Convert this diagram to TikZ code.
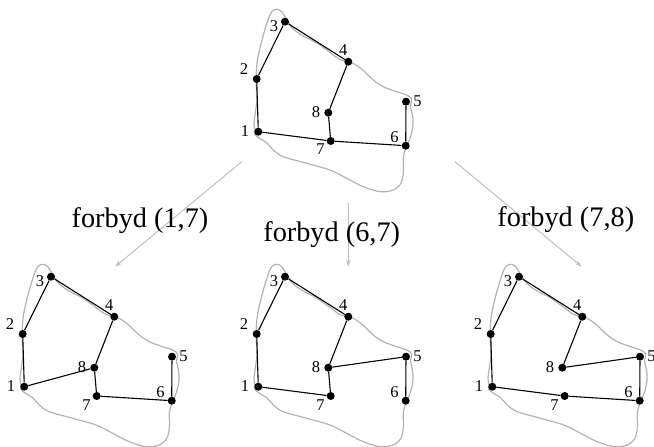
\documentclass[tikz,border=0pt]{standalone}
\usepackage{fontspec}
\setmainfont{Liberation Serif}
\usetikzlibrary{arrows.meta}
\tikzset{
 gdot/.style={circle,fill=black,inner sep=0pt,minimum size=8bp},
 lbl/.style={inner sep=0pt,font=\fontsize{16.5bp}{16.5bp}\selectfont},
 gedge/.style={line width=1.1bp,black},
 blob/.style={line width=1.2bp,color=black!30},
 arr/.style={line width=1bp,color=black!25,-{Stealth[length=7bp,width=4.5bp]}},
 caption/.style={inner sep=0pt,anchor=base,font=\fontsize{28.3bp}{30bp}\selectfont}
}
\newcommand{\blobpath}{%
 \draw[blob] plot[smooth cycle,tension=0.55] coordinates {
 (255,131.7) (254,123) (255.5,112) (257,98) (256,80) (257.5,60) (262.5,38)
 (268,20) (271.7,11.7) (276.7,9.3) (281.7,11.7) (286.7,19.5) (293.3,29)
 (303.3,36) (316.7,43) (330,52.5) (340,59.5) (353.3,63.5) (363.3,70.5)
 (373.3,80) (383.3,86.7) (396.7,91.7) (406.7,95) (411.7,99) (410.5,106)
 (412.5,115) (413,125) (410.5,137) (406,147.5) (403.3,158) (403.5,171)
 (401,183) (393.3,190) (380,191.7) (363.3,186.7) (346.7,178.3) (330,170)
 (306.7,163.3) (283.3,156.7) (273.3,150) (267,143) (259,138) (254.5,134)};}
\newcommand{\graphnodes}[1]{%
 \node[gdot] (#1-1) at (258.3,131.7) {};
 \node[gdot] (#1-2) at (256.7,79) {};
 \node[gdot] (#1-3) at (285,21.7) {};
 \node[gdot] (#1-4) at (348.3,61.7) {};
 \node[gdot] (#1-5) at (406,101.7) {};
 \node[gdot] (#1-6) at (405.7,145.7) {};
 \node[gdot] (#1-7) at (330.7,141) {};
 \node[gdot] (#1-8) at (328.3,112.7) {};
 \node[lbl] (#1-l1) at (245,130.7) {1};
 \node[lbl] (#1-l2) at (244,68.8) {2};
 \node[lbl] (#1-l3) at (274,26) {3};
 \node[lbl] (#1-l4) at (343.3,50) {4};
 \node[lbl] (#1-l5) at (417.5,101.5) {5};
 \node[lbl] (#1-l6) at (394.5,137.2) {6};
 \node[lbl] (#1-l7) at (320.5,149.6) {7};
 \node[lbl] (#1-l8) at (316,112) {8};
}
\begin{document}
\begin{tikzpicture}[x=1bp,y=-1bp]
\path[use as bounding box] (0,0) rectangle (654,447);
% top graph
\begin{scope}
 \blobpath
 \graphnodes{t}
 \draw[gedge] (t-1) -- (t-2) -- (t-3) -- (t-4) -- (t-8) -- (t-7) -- (t-1);
 \draw[gedge] (t-7) -- (t-6) -- (t-5);
\end{scope}
% bottom left: forbyd (1,7)
\begin{scope}[shift={(-234,255)}]
 \blobpath
 \graphnodes{a}
 \draw[gedge] (a-1) -- (a-2) -- (a-3) -- (a-4) -- (a-8) -- (a-7) -- (a-6) -- (a-5);
 \draw[gedge] (a-1) -- (a-8);
\end{scope}
% bottom middle: forbyd (6,7)
\begin{scope}[shift={(0,255)}]
 \blobpath
 \graphnodes{b}
 \draw[gedge] (b-1) -- (b-2) -- (b-3) -- (b-4) -- (b-8) -- (b-7) -- (b-1);
 \draw[gedge] (b-8) -- (b-5) -- (b-6);
\end{scope}
% bottom right: forbyd (7,8)
\begin{scope}[shift={(234,255)}]
 \blobpath
 \graphnodes{c}
 \draw[gedge] (c-1) -- (c-2) -- (c-3) -- (c-4) -- (c-8) -- (c-5) -- (c-6) -- (c-7) -- (c-1);
\end{scope}
% arrows
\coordinate (s1) at (241.7,161.7);
\coordinate (e1) at (115,266.7);
\coordinate (s2) at (348.3,203.3);
\coordinate (e2) at (348.3,266.7);
\coordinate (s3) at (455,161.7);
\coordinate (e3) at (581.7,266.7);
\draw[arr] (s1) -- (e1);
\draw[arr] (s2) -- (e2);
\draw[arr] (s3) -- (e3);
% captions
\node[caption] (c17) at (140,227.5) {forbyd (1,7)};
\node[caption] (c67) at (331.7,241.7) {forbyd (6,7)};
\node[caption] (c78) at (565.8,226.5) {forbyd (7,8)};
\end{tikzpicture}
\end{document}
